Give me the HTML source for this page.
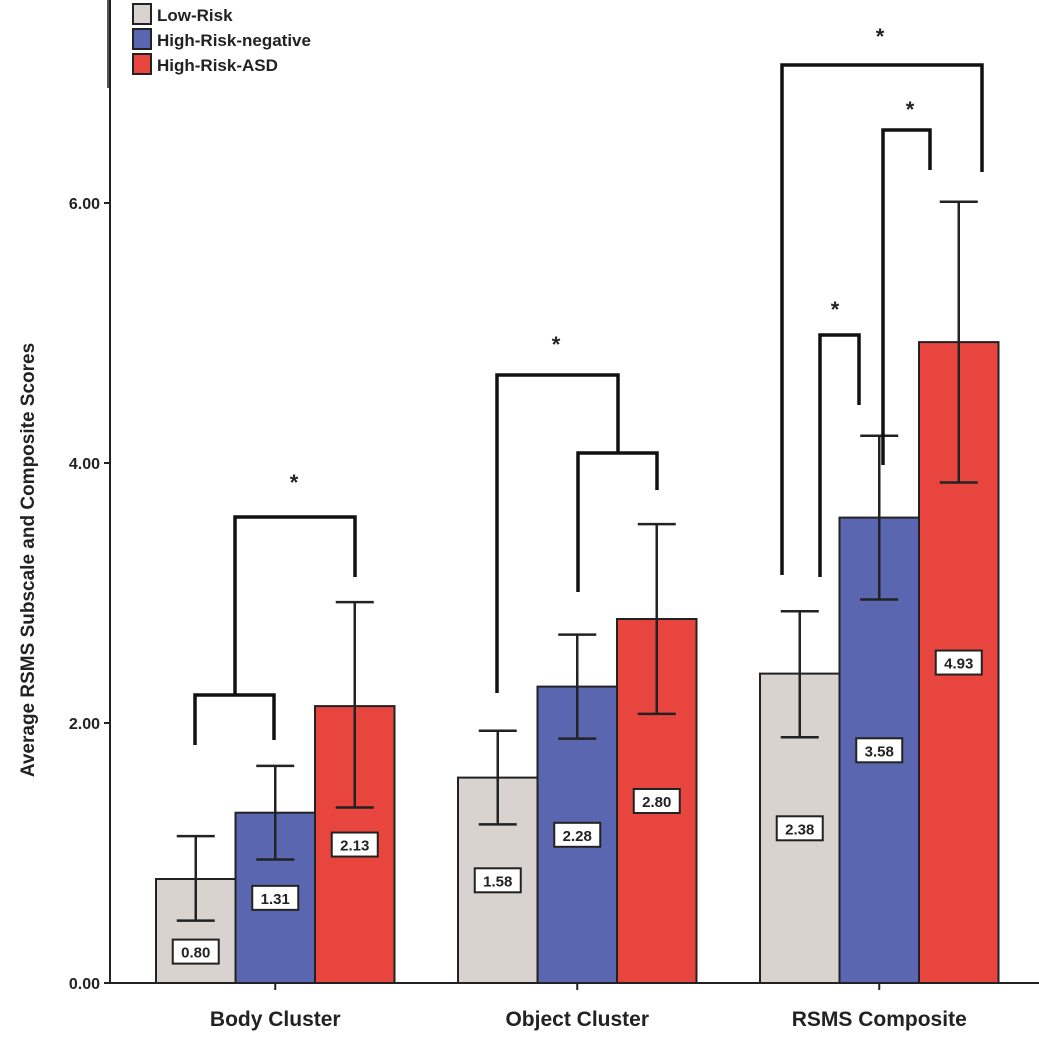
<!DOCTYPE html>
<html><head><meta charset="utf-8"><style>
body{margin:0;background:#fff;}
svg text{font-family:"Liberation Sans",Arial,sans-serif;font-weight:bold;fill:#222;}
</style></head><body>
<svg id="chart" width="1039" height="1050" xmlns="http://www.w3.org/2000/svg">
<g id="plot"></g>
</svg>
<script>
const categories=["Body Cluster","Object Cluster","RSMS Composite"];
const groups=["Low-Risk","High-Risk-negative","High-Risk-ASD"];
const lowRisk=[0.80,1.58,2.38];
const hrNeg=[1.31,2.28,3.58];
const hrAsd=[2.13,2.80,4.93];
const errLo=[[0.48,1.22,1.89],[0.95,1.88,2.95],[1.35,2.07,3.85]];
const errHi=[[1.13,1.94,2.86],[1.67,2.68,4.21],[2.93,3.53,6.01]];
const yTicks=[0,2,4,6];
const yTickLabels=["0.00","2.00","4.00","6.00"];
const colors=["#d8d3ce","#5a67b0","#e8453f"];
const series=[lowRisk,hrNeg,hrAsd];
const NS="http://www.w3.org/2000/svg";
const g=document.getElementById('plot');
function y(v){return 983-v*130;}
const catStart=[156,458,760], barW=79.5;
function bx(c,s){return catStart[c]+s*barW;}
function el(t,a,name,p){const e=document.createElementNS(NS,t);for(const k in a)e.setAttribute(k,a[k]);


(p||g).appendChild(e);return e;}
// axis
el('line',{x1:110,y1:0,x2:110,y2:983,stroke:'#222','stroke-width':2},'y-axis');
el('line',{x1:110,y1:983,x2:1039,y2:983,stroke:'#222','stroke-width':2},'x-axis');
yTicks.forEach((t,i)=>{
 el('line',{x1:104,y1:y(t),x2:110,y2:y(t),stroke:'#222','stroke-width':2},'y-tick');
 const tx=el('text',{x:100,y:y(t)+6,'text-anchor':'end','font-size':16},'y-tick-label');tx.textContent=yTickLabels[i];
});
const yt=el('text',{x:0,y:0,'text-anchor':'middle','font-size':19,transform:'translate(34,560) rotate(-90)'},'y-axis-title');
yt.textContent="Average RSMS Subscale and Composite Scores";
categories.forEach((c,ci)=>{
 const cx=bx(ci,1.5);
 el('line',{x1:cx,y1:983,x2:cx,y2:990,stroke:'#222','stroke-width':2},'x-tick');
 const t=el('text',{x:cx,y:1026,'text-anchor':'middle','font-size':21},'x-tick-label');t.textContent=c;
 series.forEach((s,si)=>{
  const x0=bx(ci,si),v=s[ci];
  el('rect',{x:x0,y:y(v),width:barW,height:983-y(v),fill:colors[si],stroke:'#222','stroke-width':2},'bar-'+si+'-'+ci);
  const mx=x0+barW/2;
  el('line',{x1:mx,y1:y(errLo[si][ci]),x2:mx,y2:y(errHi[si][ci]),stroke:'#222','stroke-width':2.5},'error-bar');
  el('line',{x1:mx-19,y1:y(errLo[si][ci]),x2:mx+19,y2:y(errLo[si][ci]),stroke:'#222','stroke-width':2.5},'error-cap');
  el('line',{x1:mx-19,y1:y(errHi[si][ci]),x2:mx+19,y2:y(errHi[si][ci]),stroke:'#222','stroke-width':2.5},'error-cap');
  const ly=Math.max((y(v)+983)/2,y(errLo[si][ci])+31);
  el('rect',{x:mx-23,y:ly-12,width:46,height:24,fill:'#fff',stroke:'#222','stroke-width':2},'value-label-box');
  const lt=el('text',{x:mx,y:ly+6,'text-anchor':'middle','font-size':15},'value-label');lt.textContent=v.toFixed(2);
 });
});
// significance brackets
function path(d){el('path',{d:d,fill:'none',stroke:'#111','stroke-width':3.5},'significance-bracket');}
function star(x,yy){const t=el('text',{x:x,y:yy,'text-anchor':'middle','font-size':22},'significance-star');t.textContent='*';}
path('M195,745 V695 H274 V740');path('M235,695 V517 H355 V577');star(294,490);
path('M578,592 V453 H657 V490');path('M618,453 V375 H497 V693');star(556,352);
path('M820,577 V335 H859 V405');star(835,317);
path('M883,465 V130 H930 V170');star(910,117);
path('M782,575 V65 H982 V172');star(880,44);
// legend
el('line',{x1:108,y1:0,x2:108,y2:88,stroke:'#555','stroke-width':2},'legend-frame');
groups.forEach((n,i)=>{
 const yy=4+i*25;
 el('rect',{x:133,y:yy,width:18,height:20,fill:colors[i],stroke:'#222','stroke-width':2},'legend-swatch');
 const t=el('text',{x:157,y:yy+17,'font-size':17},'legend-entry');t.textContent=n;
});
</script>
</body></html>
